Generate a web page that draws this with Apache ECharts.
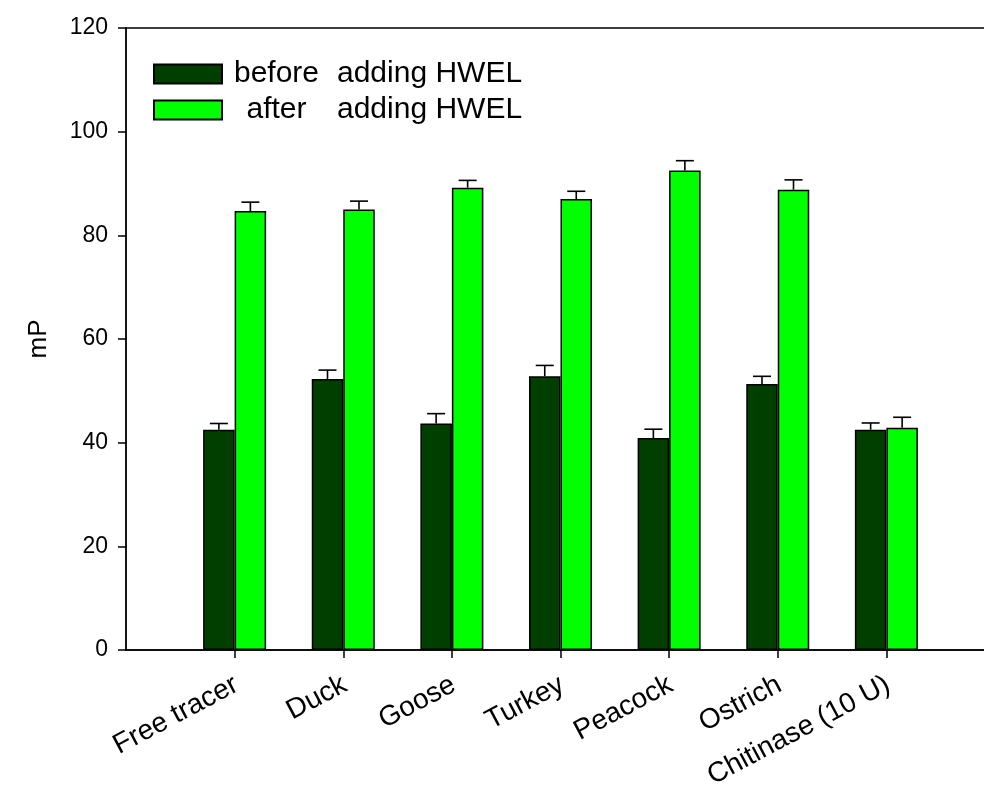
<!DOCTYPE html>
<html>
<head>
<meta charset="utf-8">
<script src="https://cdn.jsdelivr.net/npm/echarts@6/dist/echarts.min.js"></script>
<style>
  html, body { margin: 0; padding: 0; background: #ffffff; }
  #chart { width: 984px; height: 789px; }
</style>
</head>
<body>
<div id="chart"></div>
<script>
// Fluorescence polarization (mP) before/after adding HWEL
const categories = ['Free tracer', 'Duck', 'Goose', 'Turkey', 'Peacock', 'Ostrich', 'Chitinase (10 U)'];
const seriesNames = ['before adding HWEL', 'after adding HWEL'];
const beforeValues = [42.5, 52.3, 43.7, 52.8, 40.9, 51.3, 42.5];
const beforeErrors = [1.2, 1.7, 1.9, 2.1, 1.7, 1.5, 1.3];
const afterValues = [84.7, 85.0, 89.2, 87.0, 92.5, 88.8, 42.9];
const afterErrors = [1.7, 1.6, 1.4, 1.5, 1.9, 1.9, 2.0];
const yTicks = [0, 20, 40, 60, 80, 100, 120];

const FONT = '"Liberation Sans", Arial, sans-serif';
const DARK = '#003f00';
const LIGHT = '#00ff00';
const BAR_W = 31.5;

// blank slots at both ends give the same spacing as the outer axis range
const axisCats = [''].concat(categories, [' ']);
const toPoints = vals => vals.map((v, i) => [i + 1, v]);
const isInner = idx => idx > 0 && idx < axisCats.length - 1;

function errorBars(values, errors, offset) {
  return {
    type: 'custom',
    silent: true,
    z: 5,
    data: values.map((v, i) => [i + 1, v, v + errors[i]]),
    renderItem(params, api) {
      const base = api.coord([api.value(0), api.value(1)]);
      const top = api.coord([api.value(0), api.value(2)]);
      const x = base[0] + offset;
      const style = { stroke: '#000', lineWidth: 1.6 };
      return {
        type: 'group',
        children: [
          { type: 'line', shape: { x1: x, y1: base[1], x2: x, y2: top[1] }, style },
          { type: 'line', shape: { x1: x - 9, y1: top[1], x2: x + 9, y2: top[1] }, style }
        ]
      };
    }
  };
}

const chart = echarts.init(document.getElementById('chart'), null, { renderer: 'canvas' });
chart.setOption({
  animation: false,
  backgroundColor: '#ffffff',
  grid: {
    left: 126, top: 28, width: 869, height: 622,
    outerBoundsMode: 'none', containLabel: false,
    show: true, borderColor: '#000', borderWidth: 1.3, backgroundColor: 'transparent'
  },
  legend: {
    data: seriesNames,
    orient: 'vertical',
    left: 148, top: 54,
    itemWidth: 68, itemHeight: 19, itemGap: 6,
    icon: 'rect',
    selectedMode: false,
    formatter: name => {
      const parts = name.split(' ');
      return '{a|' + parts[0] + '}{b|' + parts.slice(1).join(' ') + '}';
    },
    textStyle: {
      fontFamily: FONT, fontSize: 30, color: '#000', lineHeight: 22,
      rich: {
        a: { fontFamily: FONT, fontSize: 30, lineHeight: 22, width: 99, align: 'right' },
        b: { fontFamily: FONT, fontSize: 30, lineHeight: 22, padding: [0, 0, 0, 11] }
      }
    }
  },
  xAxis: {
    type: 'category',
    data: axisCats,
    boundaryGap: false,
    axisLine: { lineStyle: { color: '#000', width: 1.5 } },
    axisTick: { show: true, length: 8, lineStyle: { color: '#000', width: 1.5 }, interval: (idx) => isInner(idx) },
    axisLabel: {
      interval: 0, rotate: 28, margin: 34, padding: [0, -2, 0, 0],
      fontFamily: FONT, fontSize: 28, color: '#000'
    },
    splitLine: { show: false }
  },
  yAxis: {
    type: 'value',
    min: yTicks[0], max: yTicks[yTicks.length - 1], interval: 20,
    name: 'mP', nameLocation: 'middle', nameGap: 74,
    nameTextStyle: { fontFamily: FONT, fontSize: 26, color: '#000' },
    axisLine: { show: true, lineStyle: { color: '#000', width: 1.5 } },
    axisTick: { show: true, inside: false, length: 8, lineStyle: { color: '#000', width: 1.5 } },
    axisLabel: { margin: 18, fontFamily: FONT, fontSize: 23, color: '#000' },
    splitLine: { show: false }
  },
  series: [
    {
      name: seriesNames[0], type: 'bar', data: toPoints(beforeValues),
      barWidth: BAR_W, barGap: '0%',
      itemStyle: { color: DARK, borderColor: '#000', borderWidth: 1.5 }
    },
    {
      name: seriesNames[1], type: 'bar', data: toPoints(afterValues),
      barWidth: BAR_W, barGap: '0%',
      itemStyle: { color: LIGHT, borderColor: '#000', borderWidth: 1.5 }
    },
    errorBars(beforeValues, beforeErrors, -BAR_W / 2),
    errorBars(afterValues, afterErrors, BAR_W / 2)
  ]
});
</script>
</body>
</html>
